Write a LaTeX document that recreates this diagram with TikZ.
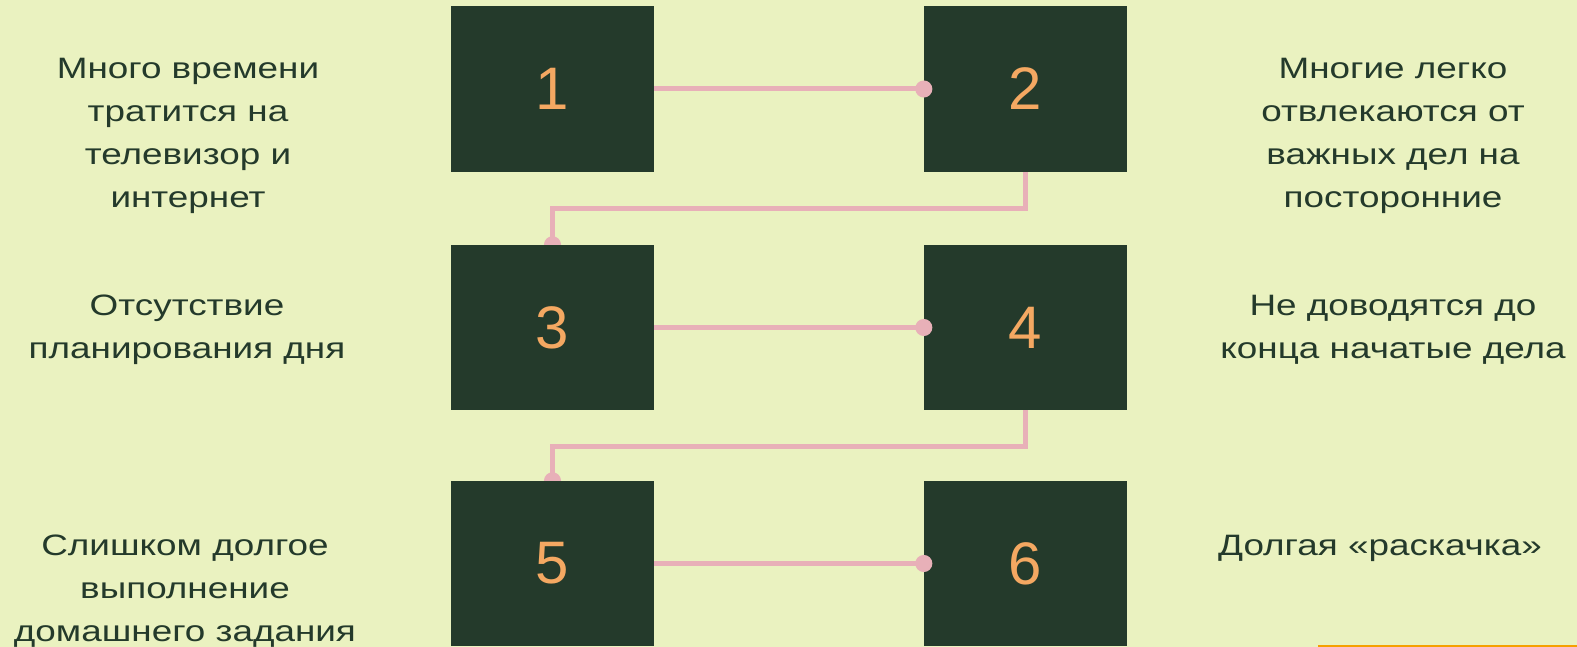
\documentclass[tikz,border=0pt]{standalone}
\usepackage{xcolor}
\usepackage{fontspec}
\setmainfont{Liberation Sans}
\newfontfamily\reasonfont[FakeStretch=1.25]{Liberation Sans}
\usetikzlibrary{positioning,arrows.meta}
\definecolor{pagebg}{HTML}{EAF2C0}
\definecolor{boxgreen}{HTML}{243A2B}
\definecolor{wirepink}{HTML}{E8B0B8}
\definecolor{numorange}{HTML}{F4A862}
\definecolor{edgeorange}{HTML}{F5A000}
\pgfdeclarelayer{bg}
\pgfsetlayers{bg,main}

\begin{document}
\begin{tikzpicture}[x=1pt, y=-1pt,
  numbox/.style={fill=boxgreen, minimum width=203pt, minimum height=165pt, inner sep=0pt,
    text=numorange, font=\fontsize{60}{60}\selectfont},
  reason/.style={text=boxgreen, align=center, inner sep=0pt, font=\reasonfont\fontsize{29.5}{43}\selectfont},
  wire/.style={draw=wirepink, line width=5pt, -{Circle[length=17pt]}, shorten >=-8.5pt}
]
  \useasboundingbox (0,0) rectangle (1577,647);
  \begin{pgfonlayer}{bg}
    \fill[pagebg] (0,0) rectangle (1577,647);
  \end{pgfonlayer}

  % ===== numbered boxes =====
  \node[numbox, minimum height=166pt] (n1) at (552.5,89) {1};
  \node[numbox, minimum height=166pt] (n2) at (1025.5,89) {2};
  \node[numbox] (n3) at (552.5,327.5) {3};
  \node[numbox] (n4) at (1025.5,327.5) {4};
  \node[numbox] (n5) at (552.5,563.5) {5};
  \node[numbox] (n6) at (1025.5,563.5) {6};

  % ===== reasons =====
  \node[reason] (r1) at (188,136) {Много времени\\тратится на\\телевизор и\\интернет};
  \node[reason] (r2) at (1393,136) {Многие легко\\отвлекаются от\\важных дел на\\посторонние};
  \node[reason] (r3) at (187,330) {Отсутствие\\планирования дня};
  \node[reason] (r4) at (1393,330) {Не доводятся до\\конца начатые дела};
  \node[reason] (r5) at (185,591) {Слишком долгое\\выполнение\\домашнего задания};
  \node[reason] (r6) at (1380,548) {Долгая «раскачка»};

  % ===== links =====
  \draw[wire] (n1) -- (n2);
  \draw[wire] (n3) -- (n4);
  \draw[wire] (n5) -- (n6);
  \begin{pgfonlayer}{bg}
    \draw[wire] (n2.south) -- ++(0,36.5) -| (n3.north);
    \draw[wire] (n4.south) -- ++(0,36) -| (n5.north);
  \end{pgfonlayer}

  \draw[edgeorange, line width=1.5pt] (1318,646) -- (1577,646);
\end{tikzpicture}
\end{document}
